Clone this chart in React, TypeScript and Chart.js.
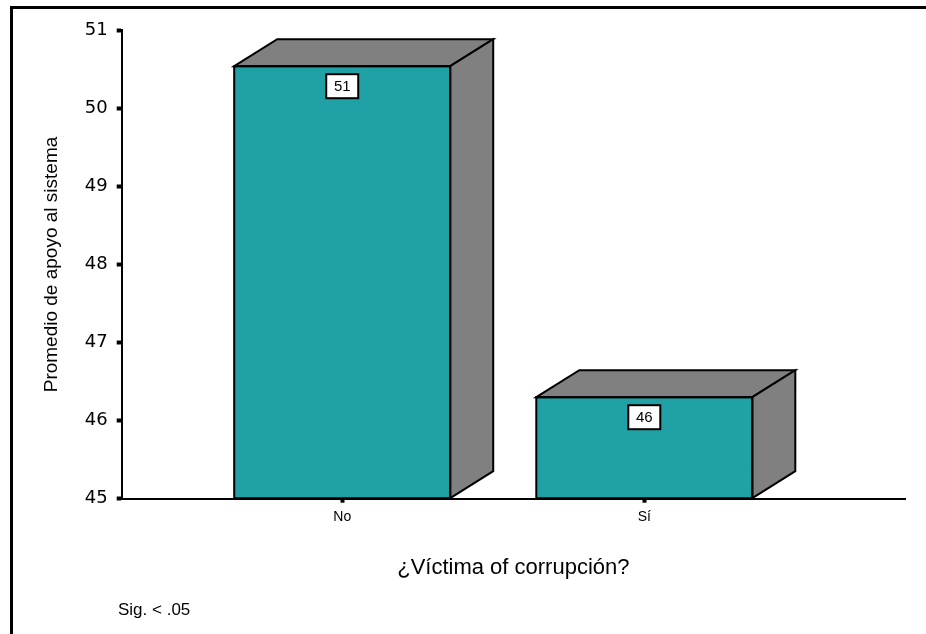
import React, { useEffect, useRef } from 'react';
import { Chart, registerables } from 'chart.js';

Chart.register(...registerables);

// ---- data ----
const categories = ['No', 'Sí'];
const positions = [1, 2];
const means = [50.54, 46.3];
const valueLabels = ['51', '46'];
const yTicks = [45, 46, 47, 48, 49, 50, 51];
const yMin = 45;
const yMax = 51;
const xTitle = '¿Víctima of corrupción?';
const yTitle = 'Promedio de apoyo al sistema';
const note = 'Sig. < .05';

const TEAL = '#20A1A6';
const GRAY = '#808080';
const SANS = '"Liberation Sans", Arial, sans-serif';

const framePlugin = {
  id: 'frame',
  afterDraw(chart: any) {
    const ctx = chart.ctx;
    ctx.save();
    ctx.strokeStyle = '#000';
    ctx.lineWidth = 3;
    ctx.beginPath();
    ctx.moveTo(11.5, 700);
    ctx.lineTo(11.5, 7.5);
    ctx.lineTo(1000, 7.5);
    ctx.stroke();
    ctx.fillStyle = '#000';
    ctx.font = `17px ${SANS}`;
    ctx.textAlign = 'left';
    ctx.textBaseline = 'middle';
    ctx.fillText(note, 118, 610);
    ctx.restore();
  },
};

const bar3dPlugin = {
  id: 'bar3d',
  afterDatasetsDraw(chart: any) {
    const ctx = chart.ctx;
    const meta = chart.getDatasetMeta(0);
    const dx = 43;
    const dy = -27;
    meta.data.forEach((bar: any, i: number) => {
      const { x, y, base, width } = bar.getProps(['x', 'y', 'base', 'width'], true);
      const l = x - width / 2;
      const r = x + width / 2;
      ctx.save();
      ctx.fillStyle = GRAY;
      ctx.strokeStyle = '#000';
      ctx.lineWidth = 2;
      ctx.lineJoin = 'miter';
      // top face
      ctx.beginPath();
      ctx.moveTo(l, y);
      ctx.lineTo(l + dx, y + dy);
      ctx.lineTo(r + dx, y + dy);
      ctx.lineTo(r, y);
      ctx.closePath();
      ctx.fill();
      ctx.stroke();
      // side face
      ctx.beginPath();
      ctx.moveTo(r, y);
      ctx.lineTo(r + dx, y + dy);
      ctx.lineTo(r + dx, base + dy);
      ctx.lineTo(r, base);
      ctx.closePath();
      ctx.fill();
      ctx.stroke();
      // front outline
      ctx.strokeRect(l, y, width, base - y);
      // value label box
      const bw = 32;
      const bh = 24;
      const bx = x - bw / 2;
      const by = y + 8;
      ctx.fillStyle = '#fff';
      ctx.fillRect(bx, by, bw, bh);
      ctx.strokeRect(bx, by, bw, bh);
      ctx.fillStyle = '#000';
      ctx.font = `15px ${SANS}`;
      ctx.textAlign = 'center';
      ctx.textBaseline = 'middle';
      ctx.fillText(valueLabels[i], x, by + bh / 2 + 1);
      ctx.restore();
    });
  },
};

export default function App() {
  const ref = useRef<HTMLCanvasElement | null>(null);

  useEffect(() => {
    if (!ref.current) return;
    const chart = new Chart(ref.current, {
      type: 'bar',
      data: {
        datasets: [
          {
            data: positions.map((p, i) => ({ x: p, y: means[i] })),
            backgroundColor: TEAL,
            borderWidth: 0,
            barThickness: 216,
            base: yMin,
          } as any,
        ],
      },
      options: {
        responsive: false,
        animation: false,
        devicePixelRatio: 1,
        layout: { padding: { left: 0, top: 30.3, right: 21, bottom: 0 } },
        plugins: {
          legend: { display: false },
          tooltip: { enabled: false },
          title: { display: false },
        },
        scales: {
          x: {
            type: 'linear',
            min: 0.27,
            max: 2.863,
            offset: false,
            afterBuildTicks: (s: any) => {
              s.ticks = positions.map((v) => ({ value: v }));
            },
            afterFit: (s: any) => {
              s.height = 135.3;
            },
            ticks: {
              callback: (v: any) => {
                const idx = positions.indexOf(Number(v));
                return idx >= 0 ? categories[idx] : '';
              },
              autoSkip: false,
              maxRotation: 0,
              color: '#000',
              padding: 6,
              font: { family: SANS, size: 14 },
            },
            grid: {
              offset: false,
              drawOnChartArea: false,
              drawTicks: true,
              tickLength: 4,
              tickWidth: 4,
              tickColor: '#000',
            },
            border: { display: true, color: '#000', width: 2 },
            title: {
              display: true,
              text: xTitle,
              color: '#000',
              font: { family: SANS, size: 22 },
              padding: { top: 0, bottom: 52.8 },
            },
          } as any,
          y: {
            type: 'linear',
            min: yMin,
            max: yMax,
            beginAtZero: false,
            afterBuildTicks: (s: any) => {
              s.ticks = yTicks.map((v) => ({ value: v }));
            },
            afterFit: (s: any) => {
              s.width = 121.7;
            },
            ticks: {
              color: '#000',
              padding: 9,
              font: { family: '"DejaVu Sans", sans-serif', size: 18 },
            },
            grid: {
              drawOnChartArea: false,
              drawTicks: true,
              tickLength: 5,
              tickWidth: 4,
              tickColor: '#000',
            },
            border: { display: true, color: '#000', width: 2 },
            title: {
              display: true,
              text: yTitle,
              color: '#000',
              font: { family: SANS, size: 19 },
              padding: { top: 40.6, bottom: 0 },
            },
          } as any,
        },
      },
      plugins: [bar3dPlugin, framePlugin],
    });
    return () => chart.destroy();
  }, []);

  return (
    <div style={{ position: 'fixed', left: 0, top: 0, width: 926, height: 634, background: '#fff' }}>
      <canvas ref={ref} width={926} height={634} style={{ width: 926, height: 634, display: 'block' }} />
    </div>
  );
}
